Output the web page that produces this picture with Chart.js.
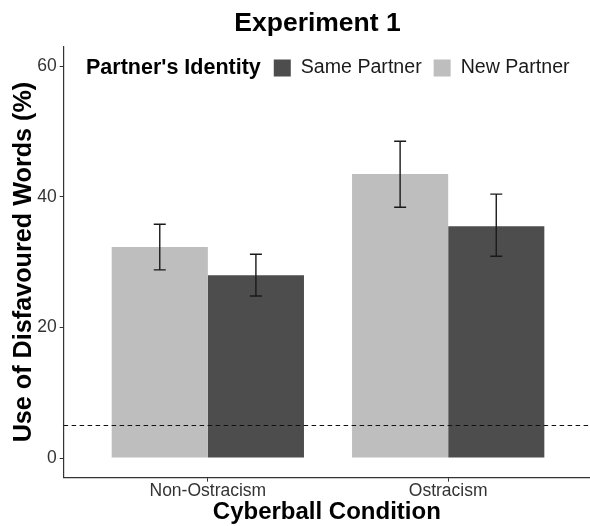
<!DOCTYPE html>
<html><head><meta charset="utf-8">
<script src="https://cdn.jsdelivr.net/npm/chart.js@4"></script>
<style>html,body{margin:0;padding:0;background:#fff}#wrap{width:590px;height:526px;position:relative}</style>
</head><body><div id="wrap"><canvas id="c"></canvas></div>
<script>
const categories = ['Non-Ostracism', 'Ostracism'];
const newPartner = [32.3, 43.5];
const newPartnerLow = [28.8, 38.4];
const newPartnerHigh = [35.8, 48.5];
const samePartner = [28.0, 35.5];
const samePartnerLow = [24.8, 30.9];
const samePartnerHigh = [31.2, 40.4];
const yTicks = [0, 20, 40, 60];
const chanceLine = 5;
const chartTitle = 'Experiment 1';
const legendTitle = "Partner's Identity";
const legendOrder = ['Same Partner', 'New Partner'];

const FONT = '"Liberation Sans", Arial, sans-serif';
const DARK = '#4D4D4D', LIGHT = '#BEBEBE';

const toPts = arr => arr.map((v, i) => ({x: i + 1, y: v}));

const datasets = [
  {label: 'New Partner', data: toPts(newPartner), low: newPartnerLow, high: newPartnerHigh, backgroundColor: LIGHT},
  {label: 'Same Partner', data: toPts(samePartner), low: samePartnerLow, high: samePartnerHigh, backgroundColor: DARK}
];

const extras = {
  id: 'extras',
  afterDatasetsDraw(chart) {
    const ctx = chart.ctx, y = chart.scales.y, a = chart.chartArea;
    ctx.save();
    ctx.strokeStyle = '#111';
    ctx.lineWidth = 1.1;
    ctx.setLineDash([4.5, 3.5]);
    const yy = Math.round(y.getPixelForValue(chanceLine)) + 0.5;
    ctx.beginPath(); ctx.moveTo(a.left, yy); ctx.lineTo(a.right, yy); ctx.stroke();
    ctx.restore();
    ctx.save();
    ctx.strokeStyle = '#1a1a1a';
    ctx.lineWidth = 1.4;
    chart.data.datasets.forEach((ds, di) => {
      const meta = chart.getDatasetMeta(di);
      meta.data.forEach((el, i) => {
        const x = el.x;
        const y1 = y.getPixelForValue(ds.low[i]);
        const y2 = y.getPixelForValue(ds.high[i]);
        const w = 6;
        ctx.beginPath();
        ctx.moveTo(x, y1); ctx.lineTo(x, y2);
        ctx.moveTo(x - w, y1); ctx.lineTo(x + w, y1);
        ctx.moveTo(x - w, y2); ctx.lineTo(x + w, y2);
        ctx.stroke();
      });
    });
    ctx.restore();
  },
  afterDraw(chart) {
    const ctx = chart.ctx;
    ctx.save();
    ctx.textBaseline = 'middle';
    ctx.fillStyle = '#000';
    ctx.textAlign = 'center';
    ctx.font = 'bold 26.5px ' + FONT;
    ctx.fillText(chartTitle, 317.5, 24);
    ctx.textAlign = 'left';
    const cy = 68;
    let x = 86;
    ctx.font = 'bold 21.5px ' + FONT;
    ctx.fillText(legendTitle, x, cy);
    x += ctx.measureText(legendTitle).width + 13;
    ctx.font = '19.6px ' + FONT;
    legendOrder.forEach(name => {
      const ds = chart.data.datasets.find(d => d.label === name);
      ctx.fillStyle = ds.backgroundColor;
      ctx.fillRect(x, cy - 8.5, 17, 17);
      x += 17 + 10;
      ctx.fillStyle = '#1a1a1a';
      ctx.fillText(name, x, cy);
      x += ctx.measureText(name).width + 12;
    });
    ctx.restore();
  }
};

new Chart(document.getElementById('c'), {
  type: 'bar',
  data: {datasets},
  options: {
    responsive: true,
    maintainAspectRatio: false,
    animation: false,
    devicePixelRatio: 1,
    categoryPercentage: 0.8,
    barPercentage: 1,
    layout: {padding: {left: 14, right: 0, top: 46.5, bottom: 2}},
    plugins: {
      legend: {display: false},
      tooltip: {enabled: false},
      title: {display: false}
    },
    scales: {
      x: {
        type: 'linear', min: 0.4, max: 2.59, offset: false,
        afterBuildTicks: s => { s.ticks = categories.map((c, i) => ({value: i + 1})); },
        ticks: {
          callback: v => categories[v - 1],
          color: '#333', font: {family: FONT, size: 17.5, lineHeight: 1.05}, padding: 0, autoSkip: false, maxRotation: 0
        },
        grid: {display: true, offset: false, drawOnChartArea: false, tickLength: 4, color: '#333', tickColor: '#333'},
        border: {display: true, color: '#333', width: 1.2},
        title: {display: true, text: 'Cyberball Condition', color: '#000',
          font: {family: FONT, size: 24, weight: 'bold', lineHeight: 1.0}, padding: {top: 0, bottom: 0}}
      },
      y: {
        min: -3, max: 63,
        afterBuildTicks: s => { s.ticks = yTicks.map(v => ({value: v})); },
        ticks: {color: '#333', font: {family: FONT, size: 17.5}, padding: 3},
        grid: {display: true, drawOnChartArea: false, tickLength: 4, color: '#333', tickColor: '#333'},
        border: {display: true, color: '#333', width: 1.2},
        title: {display: true, text: 'Use of Disfavoured Words (%)', color: '#000',
          font: {family: FONT, size: 25.2, weight: 'bold', lineHeight: 0.8}, padding: {top: 0, bottom: 0}}
      }
    }
  },
  plugins: [extras]
});
</script>
</body></html>
